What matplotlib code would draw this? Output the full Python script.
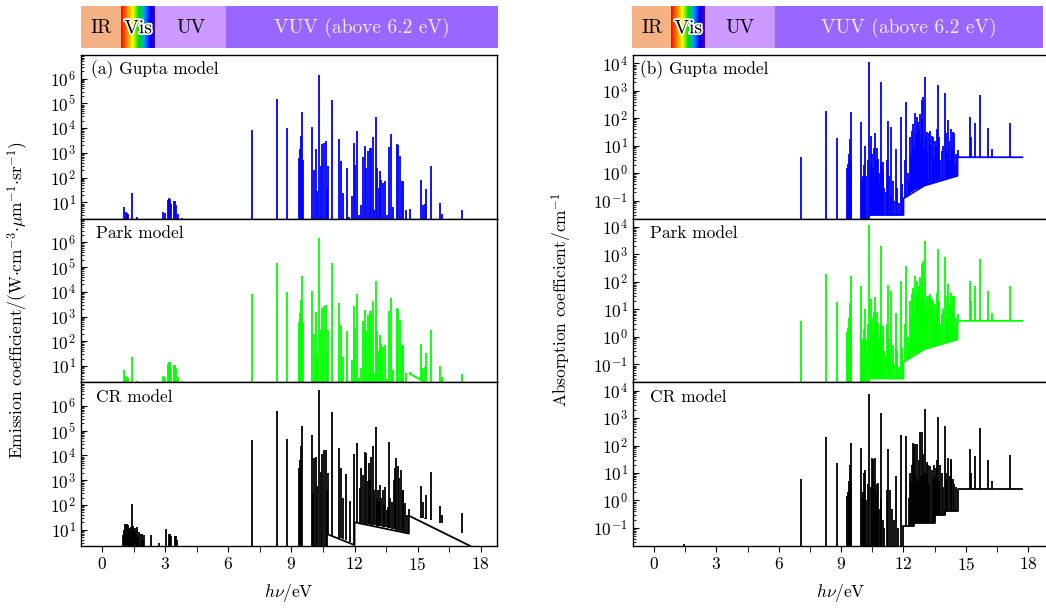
import numpy as np
import matplotlib
matplotlib.use("Agg")
import matplotlib.pyplot as plt
from matplotlib.colors import LinearSegmentedColormap
from matplotlib import patheffects
from matplotlib.ticker import MultipleLocator, LogLocator, NullFormatter

plt.rcParams["font.family"] = ["cmr10", "DejaVu Serif"]
plt.rcParams["mathtext.fontset"] = "cm"
plt.rcParams["axes.unicode_minus"] = False
plt.rcParams["axes.formatter.use_mathtext"] = True

# ---- emission lines (eV, W cm^-3 um^-1 sr^-1) ----
gupta_em_pos = [1.06, 1.12, 1.18, 1.24, 1.43, 1.67, 2.90, 2.98, 3.14, 3.19, 3.24, 3.27,
                3.43, 3.48, 3.52, 3.59, 3.78, 7.11, 8.31, 8.79, 9.35, 9.40, 9.45, 9.51,
                9.56, 9.99, 10.07, 10.15, 10.23, 10.31, 10.39, 10.47, 10.55, 10.63, 10.68,
                10.76, 10.95, 11.27, 11.36, 11.43, 11.63, 11.72, 11.88, 11.96, 12.04, 12.11,
                12.20, 12.32, 12.40, 12.48, 12.56, 12.64, 12.72, 12.80, 12.88, 12.94, 13.00,
                13.07, 13.14, 13.20, 13.28, 13.36, 13.44, 13.52, 13.64, 13.71, 13.84, 14.00,
                14.08, 14.16, 14.24, 14.32, 14.43, 14.64, 15.17, 15.25, 15.33, 15.41, 15.65,
                16.08, 16.16, 17.09]
gupta_em_peak = [6.6, 4.0, 3.6, 3.4, 23, 2.5, 4.0, 3.6, 12, 15, 14, 9,
                 11, 11, 8, 3.5, 2.4, 8500, 1.5e5, 1.0e4, 630, 1400, 4800, 4.4e4,
                 540, 1.1e4, 200, 1500, 28, 1.45e6, 290, 2200, 2600, 3000, 37,
                 290, 1.4e5, 3500, 460, 23, 250, 2.6, 18, 2600, 340, 7800,
                 3.2, 8, 680, 1900, 250, 1200, 1600, 1600, 4200, 5, 2.7e4,
                 250, 40, 180, 80, 60, 70, 3, 1700, 5600, 6.6, 2200,
                 2000, 740, 70, 70, 5, 5.6, 80, 8, 9, 35, 290,
                 9.8, 3.5, 4.9]

park_em_pos = gupta_em_pos
park_em_peak = gupta_em_peak
park_em_cont_x = [14.62, 15.20]
park_em_cont_y = [4.9, 2.6]

cr_em_pos = [1.00, 1.04, 1.08, 1.12, 1.16, 1.20, 1.24, 1.28, 1.32, 1.36, 1.43, 1.48, 1.52,
             1.56, 1.60, 1.64, 1.70, 1.75, 1.83, 1.88, 1.94, 1.99, 2.35, 2.70, 3.03, 3.19,
             3.24, 3.30, 3.46, 3.51, 3.56, 7.11, 8.31, 8.79, 9.35, 9.40, 9.45, 9.51, 9.99,
             10.03, 10.07, 10.15, 10.21, 10.31, 10.39, 10.47, 10.55, 10.63, 10.69, 10.76,
             10.95, 11.27, 11.36, 11.44, 11.60, 11.80, 11.96, 12.11, 12.25, 12.33, 12.40,
             12.48, 12.56, 12.62, 12.68, 12.74, 12.80, 12.88, 12.94, 13.00, 13.06, 13.12,
             13.18, 13.23, 13.28, 13.33, 13.40, 13.44, 13.52, 13.58, 13.64, 13.70, 13.76,
             13.86, 13.92, 13.97, 14.05, 14.13, 14.21, 14.28, 14.32, 14.40, 14.50, 14.59,
             15.17, 15.25, 15.33, 15.41, 15.65, 16.08, 16.14, 16.29, 17.09]
cr_em_peak = [6, 10, 17, 16, 14, 17, 15, 12, 9, 13, 112, 14, 10,
              12, 9, 13, 5, 8, 7, 7, 4, 6, 6.3, 3, 11, 6.6,
              6.8, 5.6, 5.7, 5.6, 4, 4.1e4, 6.3e5, 4.8e4, 3000, 6600, 2.3e4, 1.5e5, 6.9e4,
              300, 7800, 8500, 600, 4.5e6, 2200, 1.1e4, 1.7e4, 1.7e4, 400, 2000,
              5.6e5, 2.0e4, 3000, 200, 1700, 150, 1.1e4, 3.2e4, 500, 3000, 1600,
              1.4e4, 1.3e4, 900, 5100, 1000, 8500, 2.3e4, 400, 1.4e5, 200, 400,
              150, 630, 200, 400, 100, 540, 60, 80, 3.4e4, 200, 130,
              1000, 3000, 7800, 3700, 1200, 2600, 400, 420, 120, 40, 70,
              580, 130, 30, 260, 2200, 90, 40, 13, 48]
cr_em_cont_x = [10.71, 12.00, 12.00, 14.58, 14.58, 17.50]
cr_em_cont_y = [6.6, 2.4, 20, 7.0, 37, 2.2]

# ---- absorption lines (eV, cm^-1) ----
gupta_ab_pos = [7.09, 8.29, 8.78, 9.30, 9.34, 9.38, 9.42, 9.46, 9.50, 9.98, 10.02, 10.06,
                10.10, 10.14, 10.20, 10.27, 10.35, 10.42, 10.46, 10.50, 10.54, 10.58, 10.62,
                10.66, 10.70, 10.74, 10.78, 10.82, 10.86, 10.90, 10.94, 11.00, 11.02, 11.08,
                11.15, 11.20, 11.26, 11.30, 11.38, 11.42, 11.48, 11.55, 11.63, 11.70, 11.80,
                11.90, 11.95, 12.05, 12.11, 12.20, 12.25, 12.30, 12.35, 12.39, 12.45, 12.50,
                12.55, 12.60, 12.63, 12.67, 12.71, 12.75, 12.79, 12.83, 12.87, 12.90, 12.95,
                12.98, 13.03, 13.06, 13.11, 13.15, 13.22, 13.27, 13.30, 13.35, 13.40, 13.45,
                13.51, 13.55, 13.60, 13.67, 13.72, 13.78, 13.83, 13.90, 13.99, 14.05, 14.10,
                14.15, 14.20, 14.25, 14.31, 14.35, 14.39, 14.45, 14.50, 14.55, 14.60, 15.19,
                15.27, 15.43, 15.67, 16.08, 16.24, 17.12]
gupta_ab_peak = [3.9, 190, 19, 1.5, 2.1, 5, 17, 3, 165, 70, 0.5, 0.8,
                 2, 10, 0.8, 3, 1.15e4, 2.5, 23, 5, 1.5, 8, 28,
                 3, 0.6, 8, 3.2, 1, 0.4, 2.5, 2.0e3, 1.2, 2.5, 0.3,
                 0.2, 3, 80, 0.8, 0.15, 47, 0.5, 0.1, 7.6, 0.3, 0.08,
                 110, 0.4, 3, 380, 1, 0.5, 20, 5, 35, 60, 8,
                 160, 30, 110, 10, 72, 40, 145, 15, 450, 100, 590,
                 8, 3200, 20, 31, 5, 30, 35, 10, 23, 20, 4,
                 15, 10, 40, 1600, 20, 3, 6.5, 10, 800, 30, 5,
                 83, 15, 3, 41, 8, 31, 30, 2, 5, 7, 110,
                 20, 68, 690, 45, 7.6, 68]
gupta_ab_cont_x = [10.42, 12.00, 12.00, 13.00, 14.60, 14.60, 17.72]
gupta_ab_cont_y = [0.03, 0.03, 0.12, 0.35, 0.8, 3.8, 3.8]

park_ab_pos = gupta_ab_pos
park_ab_peak = gupta_ab_peak
park_ab_cont_x = gupta_ab_cont_x
park_ab_cont_y = gupta_ab_cont_y

cr_ab_pos = [1.43, 7.09, 8.29, 8.78, 9.30, 9.34, 9.38, 9.42, 9.46, 9.50, 9.98, 10.02,
             10.06, 10.10, 10.14, 10.20, 10.27, 10.35, 10.42, 10.48, 10.54, 10.58, 10.62,
             10.66, 10.70, 10.74, 10.78, 10.84, 10.90, 10.94, 11.00, 11.08, 11.20, 11.26,
             11.34, 11.44, 11.55, 11.63, 11.75, 11.90, 12.11, 12.25, 12.30, 12.36, 12.42,
             12.47, 12.51, 12.55, 12.59, 12.63, 12.68, 12.74, 12.79, 12.83, 12.87, 12.92,
             12.97, 13.03, 13.08, 13.13, 13.19, 13.25, 13.30, 13.35, 13.42, 13.47, 13.51,
             13.57, 13.62, 13.67, 13.73, 13.78, 13.83, 13.90, 13.99, 14.05, 14.10, 14.15,
             14.22, 14.27, 14.31, 14.37, 14.45, 14.52, 15.19, 15.27, 15.43, 15.67, 16.08,
             16.24, 17.12]
cr_ab_peak = [0.025, 6, 210, 23, 1.5, 2.1, 5, 20, 4, 125, 83, 1.2,
              2, 10, 13, 1, 4, 7600, 3, 35, 31, 5, 35,
              2, 0.3, 4, 4.5, 0.5, 1.2, 1.5e3, 0.2, 0.1, 2.5, 76,
              2.4, 0.5, 0.2, 8, 0.1, 234, 224, 1.2, 10, 5, 20,
              126, 100, 110, 8, 110, 5, 30, 300, 8, 300, 50,
              10, 2200, 10, 25, 20, 4, 18, 13, 6, 20, 8,
              15, 30, 1050, 5, 20, 10, 3, 510, 10, 6, 35,
              8, 30, 31, 6, 4, 3, 72, 10, 41, 450, 30,
              5, 47]
cr_ab_cont_x = [12.00, 12.00, 12.50, 12.50, 13.50, 13.50, 14.00, 14.00, 14.60, 14.60, 17.72]
cr_ab_cont_y = [0.01, 0.12, 0.12, 0.15, 0.15, 0.3, 0.3, 0.42, 0.42, 2.6, 2.6]

# spectral region strip
band_names = ["IR", "Vis", "UV", "VUV (above 6.2 eV)"]
band_edges = [0.0, 0.096, 0.178, 0.348, 1.0]
band_colors = ["#F4B183", None, "#CC99FF", "#9966FF"]
band_text_colors = ["black", "black", "black", "#EEEEEE"]

W, H = 1046, 610
fig = plt.figure(figsize=(W / 100, H / 100), dpi=100)

rainbow = LinearSegmentedColormap.from_list(
    "vis", ["#FF0000", "#FF8000", "#FFFF00", "#00E000", "#00A0FF", "#0000FF", "#5000A0"])


def px_rect(x0, y0, x1, y1):
    return [x0 / W, 1 - y1 / H, (x1 - x0) / W, (y1 - y0) / H]


def draw_band(x0, x1):
    ax = fig.add_axes(px_rect(x0, 6, x1, 48))
    ax.set_xlim(0, 1)
    ax.set_ylim(0, 1)
    ax.axis("off")
    for i, name in enumerate(band_names):
        a, b = band_edges[i], band_edges[i + 1]
        if band_colors[i] is None:
            grad = np.linspace(0, 1, 256).reshape(1, -1)
            ax.imshow(grad, cmap=rainbow, extent=[a, b, 0, 1], aspect="auto")
        else:
            ax.axvspan(a, b, color=band_colors[i], lw=0)
        t = ax.text((a + b) / 2, 0.47, name, ha="center", va="center",
                    fontsize=14, color=band_text_colors[i])
        if name == "Vis":
            t.set_path_effects([patheffects.withStroke(linewidth=2.5, foreground="white")])


def draw_spectrum(ax, pos, peak, color, floor, cont_x=None, cont_y=None):
    pos = np.asarray(pos)
    if cont_x is not None:
        base = np.interp(pos, cont_x, cont_y, left=floor, right=floor)
        base = np.minimum(base, peak)
        ax.plot(cont_x, cont_y, color=color, lw=1.3)
    else:
        base = np.full(pos.shape, floor)
    ax.vlines(pos, base, peak, color=color, lw=1.3)


def style_axis(ax, ylim, xlim, yticks, bottom):
    ax.set_yscale("log")
    ax.set_ylim(*ylim)
    ax.set_xlim(*xlim)
    ax.set_yticks(yticks)
    ax.yaxis.set_minor_locator(LogLocator(base=10, subs=np.arange(2, 10), numticks=30))
    ax.yaxis.set_minor_formatter(NullFormatter())
    ax.xaxis.set_major_locator(MultipleLocator(3))
    ax.xaxis.set_minor_locator(MultipleLocator(1.5))
    ax.tick_params(axis="y", which="both", direction="in", labelsize=12.5)
    ax.tick_params(axis="y", which="major", length=4)
    ax.tick_params(axis="y", which="minor", length=2)
    ax.tick_params(axis="x", which="both", direction="out", length=4, labelsize=12.5)
    if not bottom:
        ax.tick_params(axis="x", labelbottom=False)
    for s in ax.spines.values():
        s.set_linewidth(1.0)


rows = [(55, 218.7), (218.7, 382.3), (382.3, 546)]

# emission column
em_sets = [
    ("(a) Gupta model", gupta_em_pos, gupta_em_peak, "#0000FF", None, None),
    ("Park model", park_em_pos, park_em_peak, "#00FF00", park_em_cont_x, park_em_cont_y),
    ("CR model", cr_em_pos, cr_em_peak, "black", cr_em_cont_x, cr_em_cont_y),
]
em_axes = []
for i, (label, pos, peak, col, cx, cy) in enumerate(em_sets):
    ax = fig.add_axes(px_rect(81, rows[i][0], 497, rows[i][1]))
    draw_spectrum(ax, pos, peak, col, 1.0, cx, cy)
    style_axis(ax, (2.2, 9e6), (-1.0, 18.77), [1e1, 1e2, 1e3, 1e4, 1e5, 1e6], i == 2)
    ax.text(0.023 if i == 0 else 0.036, 0.91, label, transform=ax.transAxes,
            fontsize=12.5, va="center", ha="left")
    em_axes.append(ax)
em_axes[2].set_xlabel(r"$h\nu/\mathrm{eV}$", fontsize=12.5, labelpad=6)
fig.text(18 / W, 1 - 300 / H,
         r"Emission coefficient/$(\mathrm{W{\cdot}cm^{-3}{\cdot}\mu m^{-1}{\cdot}sr^{-1}})$",
         rotation=90, ha="center", va="center", fontsize=12.5)

# absorption column
ab_sets = [
    ("(b) Gupta model", gupta_ab_pos, gupta_ab_peak, "#0000FF", gupta_ab_cont_x, gupta_ab_cont_y),
    ("Park model", park_ab_pos, park_ab_peak, "#00FF00", park_ab_cont_x, park_ab_cont_y),
    ("CR model", cr_ab_pos, cr_ab_peak, "black", cr_ab_cont_x, cr_ab_cont_y),
]
ab_axes = []
for i, (label, pos, peak, col, cx, cy) in enumerate(ab_sets):
    ax = fig.add_axes(px_rect(633, rows[i][0], 1049, rows[i][1]))
    draw_spectrum(ax, pos, peak, col, 0.01, cx, cy)
    style_axis(ax, (0.022, 2.0e4), (-1.01, 19.0), [1e-1, 1e0, 1e1, 1e2, 1e3, 1e4], i == 2)
    ax.text(0.017 if i == 0 else 0.041, 0.91, label, transform=ax.transAxes,
            fontsize=12.5, va="center", ha="left")
    ab_axes.append(ax)
ab_axes[2].set_xlabel(r"$h\nu/\mathrm{eV}$", fontsize=12.5, labelpad=6)
fig.text(562 / W, 1 - 300 / H, r"Absorption coefficient/$\mathrm{cm^{-1}}$",
         rotation=90, ha="center", va="center", fontsize=12.5)

draw_band(81, 498)
draw_band(632, 1043)

fig.savefig("out.png", dpi=100)
